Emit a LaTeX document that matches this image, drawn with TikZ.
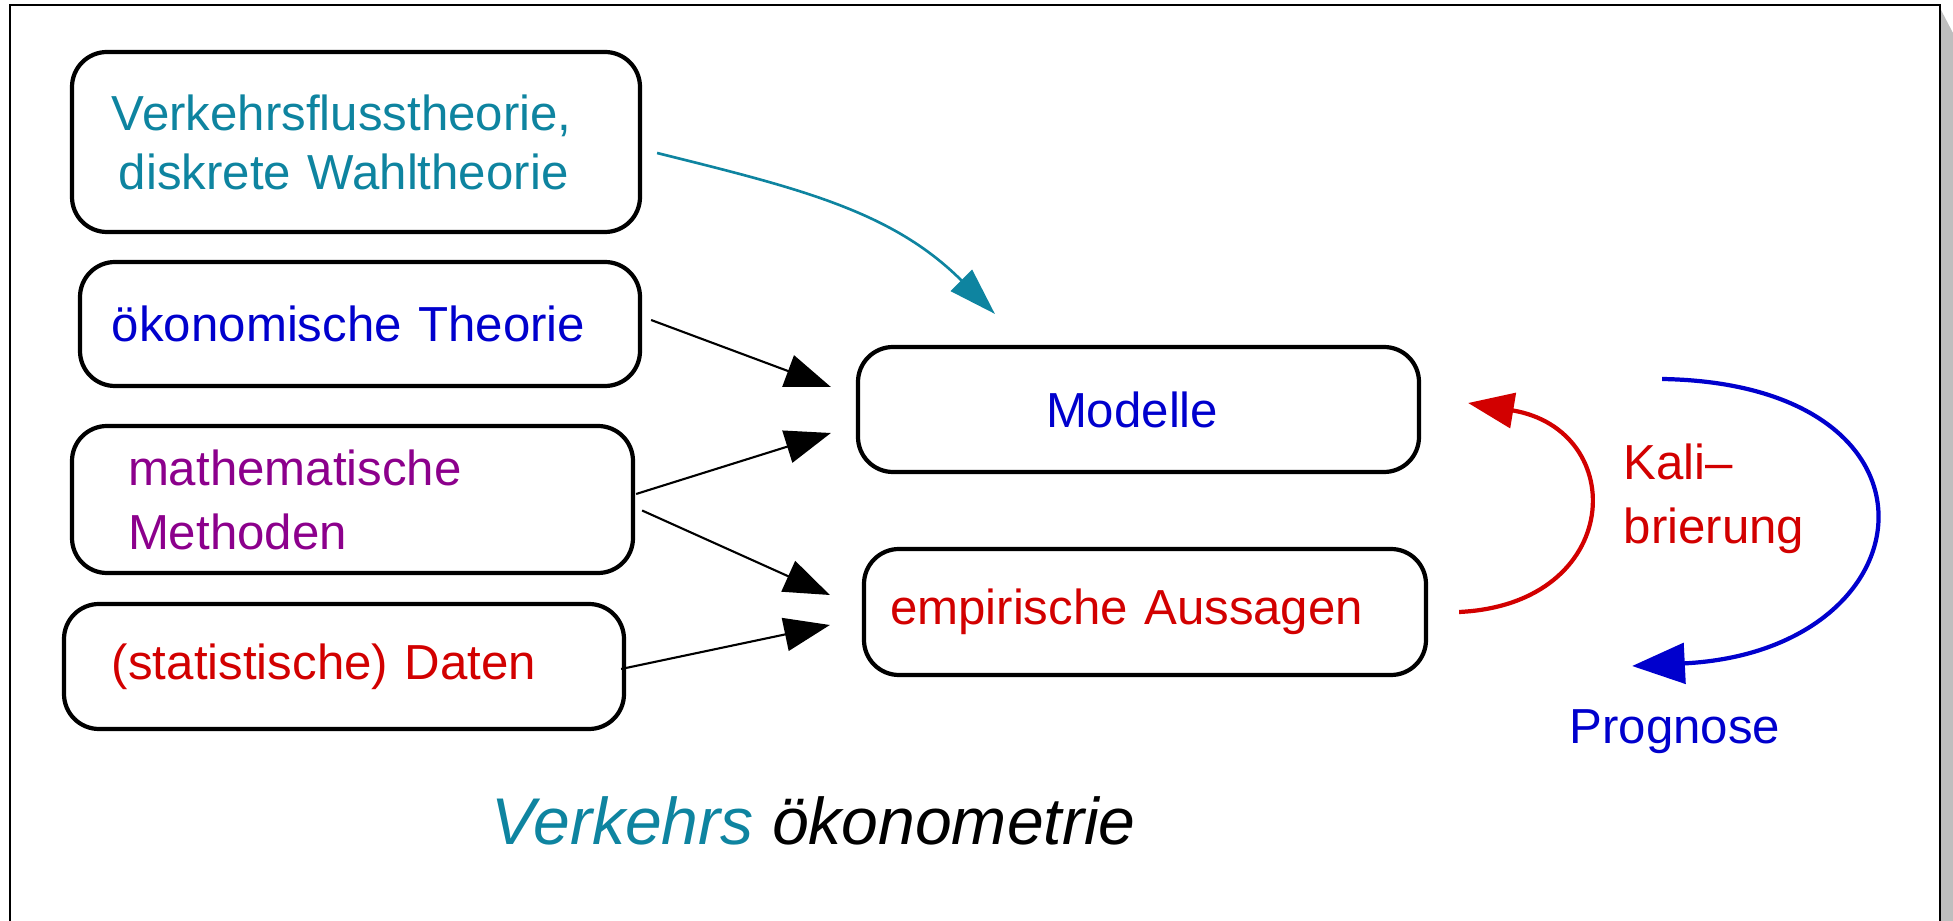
\documentclass[tikz,border=0pt]{standalone}
\usepackage{fontspec}
\setmainfont{Liberation Sans}
\usetikzlibrary{arrows.meta}

\definecolor{tealtext}{RGB}{14,132,160}
\definecolor{blautext}{RGB}{0,0,205}
\definecolor{lilatext}{RGB}{140,0,140}
\definecolor{rottext}{RGB}{210,0,0}
\definecolor{schatten}{RGB}{190,190,190}

\begin{document}
\begin{tikzpicture}[
    box/.style={
        draw,
        line width=1.2pt,
        rounded corners=0.35cm,
        align=left,
        inner ysep=0pt,
        font=\fontsize{14}{16.8}\selectfont,
    },
    feed/.style={
        line width=0.6pt,
        -{Triangle[length=13pt, width=9.5pt]},
    },
    theoryarrow/.style={
        tealtext,
        line width=0.75pt,
        -{Triangle[length=13.5pt, width=8.5pt]},
    },
    loop/.style={
        line width=1.2pt,
        line cap=butt,
    },
    tag/.style={
        inner sep=0pt,
        font=\fontsize{14}{18.2}\selectfont,
    }
]
    \useasboundingbox (0,0) rectangle (19.53,-9.21);

    % Frame with shadow
    \fill[schatten] (19.41,-0.10) -- (19.53,-0.33) -- (19.53,-9.30) -- (19.41,-9.30) -- cycle;
    \draw[line width=0.6pt] (0.10,-0.05) rectangle (19.40,-9.60);

    % Sources
    \node[box, text width=4.88cm, inner xsep=0.40cm, minimum height=1.80cm,
          text=tealtext] (flussth) at (3.56,-1.42)
        {Verkehrsflusstheorie,\\\hspace*{0.07cm}diskrete Wahltheorie};
    \node[box, text width=4.96cm, inner xsep=0.32cm, minimum height=1.24cm,
          text=blautext] (oekth) at (3.60,-3.24) {ökonomische Theorie};
    \node[box, text width=4.49cm, inner xsep=0.56cm, minimum height=1.47cm,
          text=lilatext, font=\fontsize{14}{18.2}\selectfont] (mathmeth) at (3.525,-4.995)
        {mathematische\\Methoden};
    \node[box, text width=4.64cm, inner xsep=0.48cm, minimum height=1.25cm,
          text=rottext] (daten) at (3.44,-6.665) {(statistische) Daten};

    % Results
    \node[box, text width=1.85cm, inner xsep=1.88cm, minimum height=1.25cm,
          text=blautext] (modelle) at (11.385,-4.095) {Modelle};
    \node[box, text width=5.10cm, inner xsep=0.26cm, minimum height=1.26cm,
          text=rottext] (empirie) at (11.45,-6.12) {empirische Aussagen};

    % Inputs
    \draw[theoryarrow] ([shift={(0.15,-0.11)}]flussth.east)
        to[out=-14, in=135] ([shift={(1.39,0.31)}]modelle.north west);
    \draw[feed] ([shift={(0.09,0.04)}]oekth.east) -- ([shift={(-0.25,0.225)}]modelle.west);
    \draw[feed] ([shift={(0.01,0.055)}]mathmeth.east) -- ([shift={(-0.25,-0.235)}]modelle.west);
    \draw[feed] ([shift={(0.07,-0.11)}]mathmeth.east) -- ([shift={(-0.32,0.17)}]empirie.west);
    \draw[feed] ([shift={(-0.05,-0.025)}]daten.east) -- ([shift={(-0.32,-0.13)}]empirie.west);

    % Calibration and forecast
    \draw[loop, rottext, -{Triangle[length=13pt, width=10pt]}]
        ([xshift=0.31cm]empirie.east)
        .. controls +(1.65,0.08) and +(1.62,-0.27) ..
        ([shift={(0.47,0.065)}]modelle.east);
    \draw[loop, blautext, -{Triangle[length=15pt, width=11.5pt]}]
        ([shift={(2.41,0.305)}]modelle.east)
        .. controls +(3.0,-0.05) and +(3.0,0.15) ..
        ([shift={(2.04,-0.54)}]empirie.east);

    \node[tag, text=rottext, align=left, anchor=west] (kalib) at (16.23,-4.99)
        {Kali--\\brierung};
    \node[tag, text=blautext, anchor=base west] (prognose) at (15.69,-7.44) {Prognose};

    % Title
    \node[inner sep=0pt, anchor=base west, font=\fontsize{18.8}{22}\selectfont\itshape]
        (titel) at (4.91,-8.45) {\textcolor{tealtext}{Verkehrs} ökonometrie};
\end{tikzpicture}
\end{document}
